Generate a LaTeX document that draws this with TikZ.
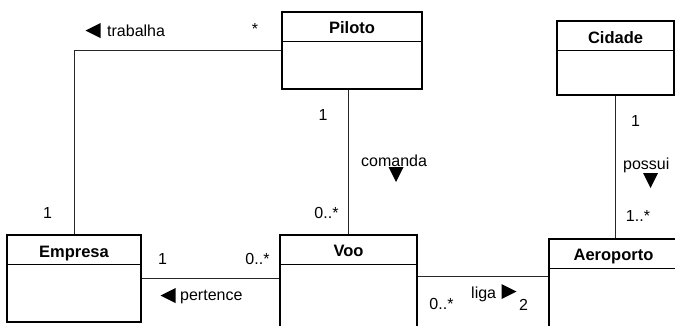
\documentclass[tikz,border=0pt]{standalone}
\usepackage{fontspec}
\setmainfont{Liberation Sans}
\usetikzlibrary{calc}
\tikzset{
  classe/.style={draw, line width=2.5pt, inner sep=0pt},
  nome/.style={font=\fontsize{16.5}{19}\bfseries\selectfont, anchor=base, inner sep=0pt},
  mult/.style={anchor=base, inner sep=0pt},
  papel/.style={anchor=base west, inner sep=0pt},
  assoc/.style={line width=1pt, black!85},
  divisa/.style={line width=1.2pt},
  seta/.pic={\fill (-7.5,-7.5) -- (7.5,0) -- (-7.5,7.5) -- cycle;}
}

\begin{document}
\begin{tikzpicture}[x=1pt, y=-1pt, font=\fontsize{16}{19}\selectfont]
  \useasboundingbox (0,0) rectangle (675,325);

  %%%%% classes %%%%%
  \node[classe, minimum width=140pt, minimum height=77pt] (piloto) at (352,50.5) {};
  \node[classe, minimum width=117pt, minimum height=74pt] (cidade) at (615.5,58) {};
  \node[classe, minimum width=134pt, minimum height=87pt] (empresa) at (74,278.5) {};
  \node[classe, minimum width=137pt, minimum height=110pt] (voo) at (348.5,290) {};
  \node[classe, minimum width=129pt, minimum height=110pt] (aeroporto) at (613.5,294) {};

  \node[nome] (pilotoN) at ($(piloto.north)+(0,23)$) {Piloto};
  \node[nome] (cidadeN) at ($(cidade.north)+(0,24)$) {Cidade};
  \node[nome] (empresaN) at ($(empresa.north)+(0,24)$) {Empresa};
  \node[nome] (vooN) at ($(voo.north)+(0,22.5)$) {Voo};
  \node[nome] (aeroportoN) at ($(aeroporto.north)+(0,23)$) {Aeroporto};

  \foreach \c in {piloto,cidade,empresa,voo,aeroporto}
    \draw[divisa] ($(\c.north west)+(0,31)$) -- ($(\c.north east)+(0,31)$);

  %%%%% associacoes %%%%%
  \draw[assoc] (piloto.west) -| (empresa.north);
  \draw[assoc] (voo.north) -- (voo.north |- piloto.south);
  \draw[assoc] (cidade.south) -- (cidade.south |- aeroporto.north);
  \draw[assoc] (empresa.east) -- (empresa.east -| voo.west);
  \coordinate (vooE) at ($(voo.north east)+(0,43)$);
  \draw[assoc] (vooE) -- (vooE -| aeroporto.west);

  % nomes e setas
  \node[papel] (trabalha) at (107,36) {trabalha};
  \pic[rotate=180] at (93,30.5) {seta};
  \node[papel] (comanda) at (361,166) {comanda};
  \pic[rotate=-90] at (396,174.5) {seta};
  \node[papel] (possui) at (623,169) {possui};
  \pic[rotate=-90] at (650.5,180.5) {seta};
  \node[papel] (pertence) at (180,300) {pertence};
  \pic[rotate=180] at (168,295.5) {seta};
  \node[papel] (liga) at (471,298) {liga};
  \pic at (509,291.5) {seta};

  % multiplicidades
  \node[mult] (mTrabP) at (255,34) {*};
  \node[mult] (mTrabE) at (47.5,218) {1};
  \node[mult] (mComP) at (323,120) {1};
  \node[mult] (mComV) at (326.5,218) {0..*};
  \node[mult] (mPertE) at (162.5,264) {1};
  \node[mult] (mPertV) at (257.5,264) {0..*};
  \node[mult] (mLigaV) at (441.5,309) {0..*};
  \node[mult] (mLigaA) at (523.5,310) {2};
  \node[mult] (mPossC) at (635.5,126) {1};
  \node[mult] (mPossA) at (638,221) {1..*};
\end{tikzpicture}
\end{document}
